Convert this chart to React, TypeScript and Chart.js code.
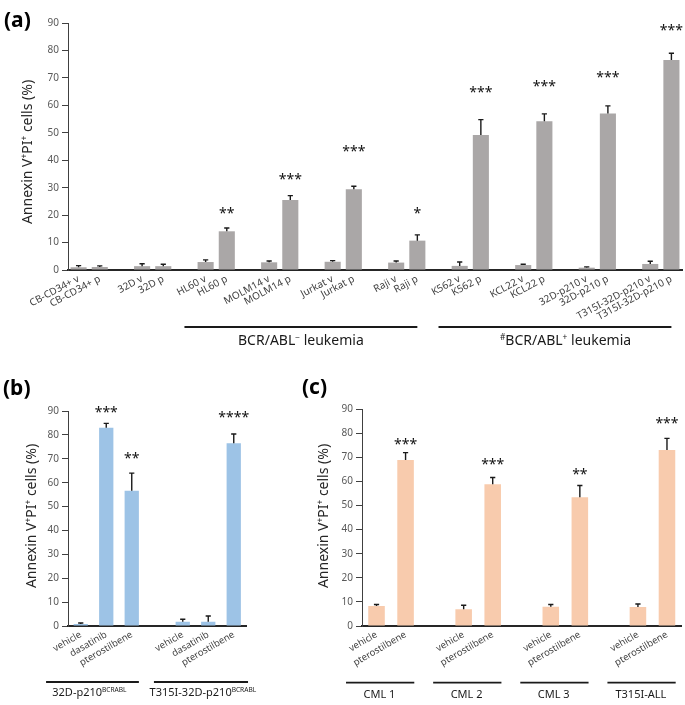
import React, { useEffect, useRef } from 'react';
import { Chart, registerables } from 'chart.js';
Chart.register(...registerables);

const FONT = '"Noto Sans", "DejaVu Sans", Arial, sans-serif';

// ---------- Panel (a) data ----------
const aCells = ['CB-CD34+', '32D', 'HL60', 'MOLM14', 'Jurkat', 'Raji', 'K562', 'KCL22', '32D-p210', 'T315I-32D-p210'];
const aVehicle = [1.0, 1.4, 2.9, 2.8, 3.0, 2.7, 1.5, 1.8, 0.85, 2.2];
const aVehicleErr = [0.6, 0.9, 0.8, 0.5, 0.4, 0.6, 1.4, 0.3, 0.3, 1.0];
const aPtero = [1.1, 1.4, 14.1, 25.5, 29.4, 10.7, 49.2, 54.2, 57.0, 76.5];
const aPteroErr = [0.4, 0.7, 1.2, 1.6, 1.1, 2.1, 5.6, 2.7, 2.8, 2.5];
const aStars = ['', '', '**', '***', '***', '*', '***', '***', '***', '***'];
const aStarLevel = [0, 0, 21.9, 34.4, 44.5, 21.9, 66.0, 68.1, 71.4, 88.6];

// ---------- Panel (b) data ----------
const bTreatments = ['vehicle', 'dasatinib', 'pterostilbene'];
const b32D = [0.8, 83.0, 56.6];
const b32DErr = [0.45, 1.8, 7.4];
const b32DStars = ['', '***', '**'];
const b32DStarLevel = [0, 90.8, 71.5];
const bT315I = [1.8, 1.8, 76.5];
const bT315IErr = [1.0, 2.4, 3.9];
const bT315IStars = ['', '', '****'];
const bT315IStarLevel = [0, 0, 88.7];

// ---------- Panel (c) data ----------
const cPatients = ['CML 1', 'CML 2', 'CML 3', 'T315I-ALL'];
const cTreatments = ['vehicle', 'pterostilbene'];
const cVehicle = [8.3, 6.9, 8.0, 7.9];
const cVehicleErr = [0.6, 1.7, 0.9, 1.2];
const cPtero = [68.8, 58.8, 53.4, 73.0];
const cPteroErr = [3.1, 2.8, 4.9, 4.8];
const cStars = ['***', '***', '**', '***'];
const cStarLevel = [76.7, 68.4, 64.4, 85.4];

const yMax = 90;
const yStep = 10;

type Seg = { t: string; sup?: boolean };
type Slot = { label: string; value: number | null; err: number; star: string; level: number };

function buildSlots(groups: Slot[][]): Slot[] {
  const out: Slot[] = [];
  groups.forEach((g, gi) => {
    if (gi > 0) out.push({ label: '', value: null, err: 0, star: '', level: 0 });
    g.forEach((s) => out.push(s));
  });
  return out;
}

const aSlots = buildSlots(
  aCells.map((c, i) => [
    { label: c + ' v', value: aVehicle[i], err: aVehicleErr[i], star: '', level: 0 },
    { label: c + ' p', value: aPtero[i], err: aPteroErr[i], star: aStars[i], level: aStarLevel[i] },
  ])
);
const bSlots = buildSlots([
  bTreatments.map((t, i) => ({ label: t, value: b32D[i], err: b32DErr[i], star: b32DStars[i], level: b32DStarLevel[i] })),
  bTreatments.map((t, i) => ({ label: t, value: bT315I[i], err: bT315IErr[i], star: bT315IStars[i], level: bT315IStarLevel[i] })),
]);
const cSlots = buildSlots(
  cPatients.map((_, i) => [
    { label: cTreatments[0], value: cVehicle[i], err: cVehicleErr[i], star: '', level: 0 },
    { label: cTreatments[1], value: cPtero[i], err: cPteroErr[i], star: cStars[i], level: cStarLevel[i] },
  ])
);

const yTitle: Seg[] = [{ t: 'Annexin V' }, { t: '+', sup: true }, { t: 'PI' }, { t: '+', sup: true }, { t: ' cells (%)' }];

interface GroupLine { from: number; to: number; textAt: number; segs: Seg[] }
interface Spec {
  box: { left: number; top: number; width: number; height: number };
  area: { left: number; top: number; right: number; bottom: number };
  slots: Slot[];
  color: string;
  barPct: number;
  rotation: number;
  tickSize: number;
  titlePos: { x: number; y: number };
  panel: { text: string; x: number; y: number };
  groups: GroupLine[];
  lineY: number;
  textY: number;
  groupFont: number;
}

const specs: Spec[] = [
  {
    box: { left: 0, top: 0, width: 685, height: 360 },
    area: { left: 68, top: 23, right: 682, bottom: 270 },
    slots: aSlots,
    color: '#aaa7a7',
    barPct: 0.76,
    rotation: 28,
    tickSize: 10,
    titlePos: { x: 27, y: 152 },
    panel: { text: '(a)', x: 4, y: 27 },
    groups: [
      { from: 5, to: 16, textAt: 10.5, segs: [{ t: 'BCR/ABL' }, { t: '\u2212', sup: true }, { t: ' leukemia' }] },
      { from: 17, to: 28, textAt: 23, segs: [{ t: '#', sup: true }, { t: 'BCR/ABL' }, { t: '+', sup: true }, { t: ' leukemia' }] },
    ],
    lineY: 327,
    textY: 345,
    groupFont: 14,
  },
  {
    box: { left: 0, top: 360, width: 300, height: 345 },
    area: { left: 68, top: 51, right: 246.5, bottom: 266 },
    slots: bSlots,
    color: '#9dc3e6',
    barPct: 0.56,
    rotation: 30,
    tickSize: 9.5,
    titlePos: { x: 31, y: 156 },
    panel: { text: '(b)', x: 3, y: 35 },
    groups: [
      { from: -1.36, to: 2.28, textAt: 0.34, segs: [{ t: '32D-p210' }, { t: 'BCRABL', sup: true }] },
      { from: 2.87, to: 6.56, textAt: 4.79, segs: [{ t: 'T315I-32D-p210' }, { t: 'BCRABL', sup: true }] },
    ],
    lineY: 322,
    textY: 336,
    groupFont: 11,
  },
  {
    box: { left: 300, top: 360, width: 385, height: 345 },
    area: { left: 62, top: 49, right: 381.5, bottom: 266 },
    slots: cSlots,
    color: '#f8cbad',
    barPct: 0.57,
    rotation: 30,
    tickSize: 9.5,
    titlePos: { x: 23, y: 156 },
    panel: { text: '(c)', x: 2, y: 34 },
    groups: cPatients.map((p, i) => ({ from: i * 3 - 1.05, to: i * 3 + 1.3, textAt: i * 3 + 0.1, segs: [{ t: p }] })),
    lineY: 322.7,
    textY: 337.5,
    groupFont: 11,
  },
];

function drawSegs(ctx: CanvasRenderingContext2D, segs: Seg[], cx: number, baseY: number, size: number, weight = '') {
  const supSize = size * 0.6;
  const f = (s: Seg) => `${weight}${s.sup ? supSize : size}px ${FONT}`;
  let total = 0;
  segs.forEach((s) => {
    ctx.font = f(s);
    total += ctx.measureText(s.t).width;
  });
  let x = cx - total / 2;
  ctx.textAlign = 'left';
  ctx.textBaseline = 'alphabetic';
  segs.forEach((s) => {
    ctx.font = f(s);
    ctx.fillText(s.t, x, s.sup ? baseY - size * 0.38 : baseY);
    x += ctx.measureText(s.t).width;
  });
}

const STAR = 14;

function makeChart(canvas: HTMLCanvasElement, spec: Spec) {
  const { box, area, slots } = spec;
  const decor = {
    id: 'decor',
    afterDraw(chart: any) {
      const ctx: CanvasRenderingContext2D = chart.ctx;
      const xs = chart.scales.x;
      const ys = chart.scales.y;
      const meta = chart.getDatasetMeta(0);
      ctx.save();
      // error bars
      ctx.strokeStyle = '#1a1a1a';
      ctx.lineWidth = 1.4;
      meta.data.forEach((bar: any, i: number) => {
        const s = slots[i];
        if (s.value == null || !s.err) return;
        const y0 = ys.getPixelForValue(s.value);
        const y1 = ys.getPixelForValue(s.value + s.err);
        ctx.beginPath();
        ctx.moveTo(bar.x, y0);
        ctx.lineTo(bar.x, y1);
        ctx.moveTo(bar.x - 2.6, y1);
        ctx.lineTo(bar.x + 2.6, y1);
        ctx.stroke();
      });
      // significance stars
      ctx.fillStyle = '#111';
      ctx.font = `${STAR}px ${FONT}`;
      ctx.textAlign = 'center';
      ctx.textBaseline = 'alphabetic';
      meta.data.forEach((bar: any, i: number) => {
        const s = slots[i];
        if (!s.star) return;
        const yc = ys.getPixelForValue(s.level);
        ctx.fillText(s.star, bar.x, yc + STAR * 0.58);
      });
      // group lines + labels
      ctx.strokeStyle = '#1a1a1a';
      ctx.lineWidth = 1.8;
      spec.groups.forEach((g) => {
        const x1 = xs.getPixelForValue(g.from);
        const x2 = xs.getPixelForValue(g.to);
        ctx.beginPath();
        ctx.moveTo(x1, spec.lineY);
        ctx.lineTo(x2, spec.lineY);
        ctx.stroke();
        ctx.fillStyle = '#1a1a1a';
        drawSegs(ctx, g.segs, xs.getPixelForValue(g.textAt), spec.textY, spec.groupFont);
      });
      // y axis title
      ctx.save();
      ctx.translate(spec.titlePos.x, spec.titlePos.y);
      ctx.rotate(-Math.PI / 2);
      ctx.fillStyle = '#262626';
      drawSegs(ctx, yTitle, 0, 14 * 0.36, 14);
      ctx.restore();
      // panel letter
      ctx.fillStyle = '#000';
      ctx.font = `bold 21px ${FONT}`;
      ctx.textAlign = 'left';
      ctx.fillText(spec.panel.text, spec.panel.x, spec.panel.y);
      ctx.restore();
    },
  };

  return new Chart(canvas, {
    type: 'bar',
    data: {
      labels: slots.map((s) => s.label),
      datasets: [
        {
          data: slots.map((s) => s.value),
          backgroundColor: spec.color,
          borderWidth: 0,
          barPercentage: spec.barPct,
          categoryPercentage: 1,
        },
      ],
    },
    options: {
      animation: false,
      responsive: false,
      maintainAspectRatio: false,
      devicePixelRatio: 1,
      layout: { padding: { left: 0, top: area.top, right: box.width - area.right, bottom: 0 } },
      plugins: { legend: { display: false }, tooltip: { enabled: false } },
      scales: {
        x: {
          type: 'category',
          offset: true,
          grid: { display: false, drawTicks: false },
          border: { display: true, color: '#262626', width: 2 },
          ticks: {
            autoSkip: false,
            minRotation: spec.rotation,
            maxRotation: spec.rotation,
            padding: 3,
            color: '#404040',
            font: { family: FONT, size: spec.tickSize },
          },
          afterFit: (s: any) => {
            s.height = box.height - area.bottom;
          },
        },
        y: {
          min: 0,
          max: yMax,
          ticks: { stepSize: yStep, padding: 3, color: '#595959', font: { family: FONT, size: 10 } },
          grid: { drawOnChartArea: false, drawTicks: true, tickLength: 6, color: '#404040' },
          border: { display: true, color: '#404040', width: 1 },
          afterFit: (s: any) => {
            s.width = area.left;
          },
        },
      },
    },
    plugins: [decor],
  } as any);
}

function Panel({ spec }: { spec: Spec }) {
  const ref = useRef<HTMLCanvasElement>(null);
  useEffect(() => {
    if (!ref.current) return;
    const chart = makeChart(ref.current, spec);
    return () => chart.destroy();
  }, [spec]);
  const { box } = spec;
  return (
    <canvas
      ref={ref}
      width={box.width}
      height={box.height}
      style={{ position: 'absolute', left: box.left, top: box.top, width: box.width, height: box.height }}
    />
  );
}

export default function App() {
  return (
    <div style={{ position: 'absolute', left: 0, top: 0, width: 685, height: 705, background: '#fff', overflow: 'hidden' }}>
      {specs.map((s, i) => (
        <Panel key={i} spec={s} />
      ))}
    </div>
  );
}
